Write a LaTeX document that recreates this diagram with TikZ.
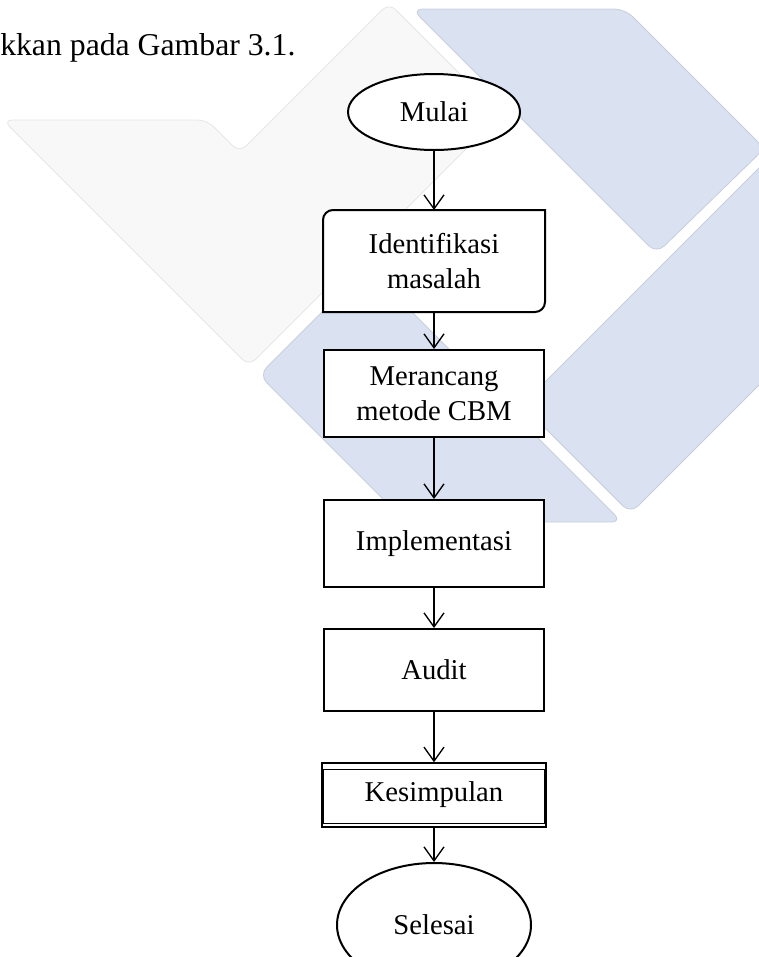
\documentclass[tikz,border=0pt]{standalone}
\usepackage{fontspec}
\setmainfont{Liberation Serif}
\usetikzlibrary{arrows.meta,shapes.geometric}

\definecolor{logogrey}{RGB}{248,248,248}
\definecolor{logogreyline}{RGB}{230,230,230}
\definecolor{logoblue}{RGB}{218,225,241}
\definecolor{logoblueline}{RGB}{198,206,222}

\tikzset{
  flowbox/.style={draw, fill=white, line width=1.5pt, minimum width=165pt,
    align=center, inner sep=0pt, font=\fontsize{21.5pt}{26pt}\selectfont},
  terminal/.style={ellipse, draw, fill=white, line width=1.5pt, inner sep=0pt,
    font=\fontsize{21.5pt}{26pt}\selectfont},
  flowarrow/.style={line width=1pt, -{Straight Barb[length=10.5pt,width=15pt]}},
  greyshape/.style={fill=logogrey, draw=logogreyline, line width=0.6pt, rounded corners=7pt},
  blueshape/.style={fill=logoblue, draw=logoblueline, line width=0.6pt, rounded corners=8pt}
}

\begin{document}
\begin{tikzpicture}[x=0.75pt, y=-0.75pt]
  \useasboundingbox (0,0) rectangle (759,957);
  \clip (0,0) rectangle (759,957);
  \def\rr{7.5pt}

  % faint logo behind the chart
  \filldraw[greyshape] (3,120) -- (207,120) -- (239.5,152.5) -- (389,3) -- (500.5,114.5) -- (249,366) -- cycle;
  \filldraw[blueshape] (412,9) -- (625,9) -- (764.5,148.5) -- (656.5,253.5) -- cycle;
  \filldraw[blueshape] (522,405) -- (800,127) -- (800,344) -- (630.5,513.5) -- cycle;
  \filldraw[blueshape] (259,375) -- (367,267) -- (622,522) -- (406,522) -- cycle;

  % running text above the chart
  \node[anchor=base west, inner sep=0pt, font=\fontsize{23.8pt}{28pt}\selectfont] (lead) at (0,55) {kkan pada Gambar 3.1.};

  % steps
  \node[terminal, minimum width=129pt, minimum height=57pt] (mulai) at (434,112) {Mulai};
  \node[flowbox, draw=none, fill=none, minimum height=75pt] (ident) at (434,261) {Identifikasi\\masalah};
  \node[flowbox, minimum height=65.25pt] (rancang) at (434,393.5) {Merancang\\metode CBM};
  \node[flowbox, minimum height=65.25pt] (impl) at (434,543.5) {Implementasi};
  \node[flowbox, minimum height=61.5pt] (audit) at (434,670) {Audit};
  \node[flowbox, line width=1.1pt, minimum width=168pt, minimum height=48pt] (simpul) at (434,795) {Kesimpulan};
  \node[terminal, minimum width=145.5pt, minimum height=93pt] (selesai) at (434,925) {Selesai};

  % box with two round corners
  \filldraw[fill=white, line width=1.5pt] (ident.south west) -- ([yshift=-\rr]ident.north west)
    arc[start angle=180, end angle=90, radius=\rr] -- (ident.north east)
    -- ([yshift=\rr]ident.south east) arc[start angle=0, end angle=-90, radius=\rr] -- cycle;
  \node[font=\fontsize{21.5pt}{26pt}\selectfont, align=center] at (ident) {Identifikasi\\masalah};

  % inner frame of the last box
  \draw[line width=1.1pt] ([xshift=1.5pt,yshift=-5.25pt]simpul.north west) rectangle ([xshift=-1.5pt,yshift=3pt]simpul.south east);

  \draw[flowarrow] (mulai) -- (ident);
  \draw[flowarrow] (ident) -- (rancang);
  \draw[flowarrow] (rancang) -- (impl);
  \draw[flowarrow] (impl) -- (audit);
  \draw[flowarrow] (audit) -- (simpul);
  \draw[flowarrow] (simpul) -- (selesai);
\end{tikzpicture}
\end{document}
